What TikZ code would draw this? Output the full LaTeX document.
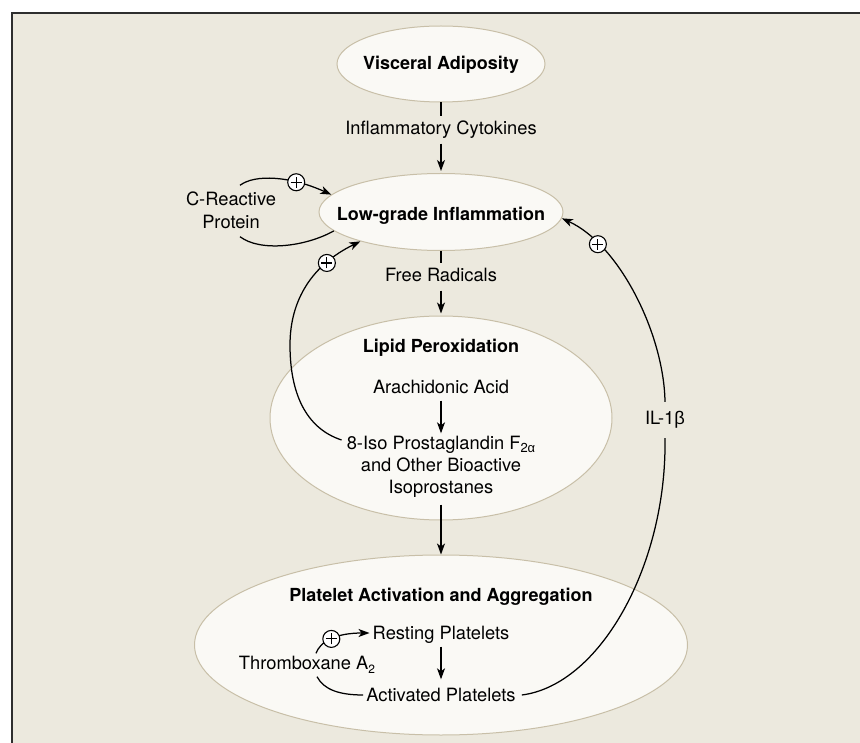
\documentclass[tikz,border=0pt]{standalone}
\usepackage{fontspec}
\setmainfont{TeX Gyre Heros}
\newfontfamily\grk{Liberation Sans}
\usetikzlibrary{shapes.geometric,arrows.meta}
\definecolor{bgc}{HTML}{ECE9DE}
\definecolor{ellf}{HTML}{FAF9F5}
\definecolor{elld}{HTML}{C8BFA8}
\definecolor{framec}{HTML}{2E2E2E}
\begin{document}
\begin{tikzpicture}[x=1pt,y=-1pt,
  ell/.style={ellipse,draw=elld,line width=1pt,fill=ellf,inner sep=0pt},
  txt/.style={font=\fontsize{18.3}{22}\selectfont,text height=13pt,text depth=4pt,inner sep=3pt},
  btxt/.style={font=\bfseries\fontsize{18}{22}\selectfont,text height=13pt,text depth=4pt,inner sep=3pt},
  lbl/.style={txt,fill=bgc,inner ysep=5pt,inner xsep=2pt},
  plus/.style={circle,draw=black,fill=white,line width=1.1pt,minimum size=17pt,inner sep=0pt,
    path picture={\draw[-,black,line width=1.1pt]
      ([xshift=-5.5pt]path picture bounding box.center) -- ([xshift=5.5pt]path picture bounding box.center)
      ([yshift=-5.5pt]path picture bounding box.center) -- ([yshift=5.5pt]path picture bounding box.center);}},
  conn/.style={line width=1.1pt,draw=black},
  curve/.style={line width=1.25pt,draw=black},
  tip/.style={-{Stealth[length=11pt,width=8pt,inset=3pt]}}
]
\useasboundingbox (0,0) rectangle (860,743);
\fill[white] (0,0) rectangle (860,743);
\fill[bgc] (12,13) rectangle (860,743);
\draw[framec,line width=1.5pt] (12,743) -- (12,13) -- (860,13);

% ellipses
\node[ell,minimum width=208pt,minimum height=76pt] (va) at (441,64) {};
\node[ell,minimum width=244pt,minimum height=77pt] (lg) at (441,212) {};
\node[ell,minimum width=342pt,minimum height=204pt] (lip) at (441,418) {};
\node[ell,minimum width=493pt,minimum height=180pt] (pl) at (441,645) {};

% texts
\node[btxt] (vat) at (441,65) {Visceral Adiposity};
\node[btxt] (lgt) at (441,216) {Low-grade Inflammation};
\node[btxt] (lipt) at (441,348) {Lipid Peroxidation};
\node[txt] (arach) at (441,389) {Arachidonic Acid};
\node[txt] (iso1) at (441,445) {8-Iso Prostaglandin F\raisebox{-3pt}{\fontsize{13}{13}\selectfont 2{\grk α}}};
\node[txt] (iso2) at (441,467) {and Other Bioactive};
\node[txt] (iso3) at (441,489) {Isoprostanes};
\node[btxt] (plt) at (441,597) {Platelet Activation and Aggregation};
\node[txt] (rest) at (441,635) {Resting Platelets};
\node[txt] (act) at (441,697) {Activated Platelets};
\node[txt] (tx) at (307,665) {Thromboxane A\raisebox{-4pt}{\fontsize{12}{12}\selectfont 2}};
\node[txt] (crp1) at (231,201) {C-Reactive};
\node[txt] (crp2) at (231,224) {Protein};

% labels on connectors
\node[lbl] (cyt) at (441,130) {Inflammatory Cytokines};
\node[lbl] (fr) at (441,277) {Free Radicals};
\node[txt,inner ysep=9.5pt] (il) at (665,420) {IL-1{\grk β}};

% straight connectors
\draw[conn] (va) -- (cyt);
\draw[conn,tip,shorten >=2pt] (cyt) -- (lg);
\draw[conn] (lg) -- (fr);
\draw[conn,tip,shorten >=2pt] (fr) -- (lip);
\draw[conn,tip] (arach) -- (iso1);
\draw[conn,tip,shorten <=4pt] (iso3) -- (pl);
\draw[conn,tip,shorten >=6pt] (rest) -- (act);

% C-reactive protein loop
\draw[curve] (lg.190) .. controls (305,247) and (260,252) .. ([xshift=9pt,yshift=-1pt]crp2.south);
\draw[curve,tip] ([xshift=9pt,yshift=4pt]crp1.north) .. controls (255,174) and (290,176) .. (lg.171)
  node[plus,pos=0.7] (p1) {};

% isoprostanes feedback
\draw[curve,tip] ([xshift=-2pt,yshift=5pt]iso1.west) .. controls (305,428) and (290,392) .. (290,345)
  .. controls (290,300) and (312,265) .. (lg.200) node[plus,pos=0.73] (p2) {};

% IL-1beta feedback
\draw[curve] ([xshift=3pt,yshift=2pt]act.east) .. controls (600,685) and (667,565) .. (il.south);
\draw[curve,tip] (il.north) .. controls (664,335) and (620,245) .. (lg.-3)
  node[plus,pos=0.78] (p3) {};

% thromboxane loop
\draw[curve,tip] ([xshift=9pt]tx.north) .. controls (320,642) and (335,633) .. ([yshift=2pt]rest.west)
  node[plus,pos=0.5] (p4) {};
\draw[curve] ([xshift=10pt]tx.south) .. controls (324,690) and (340,695) .. ([yshift=2pt]act.west);
\end{tikzpicture}
\end{document}
